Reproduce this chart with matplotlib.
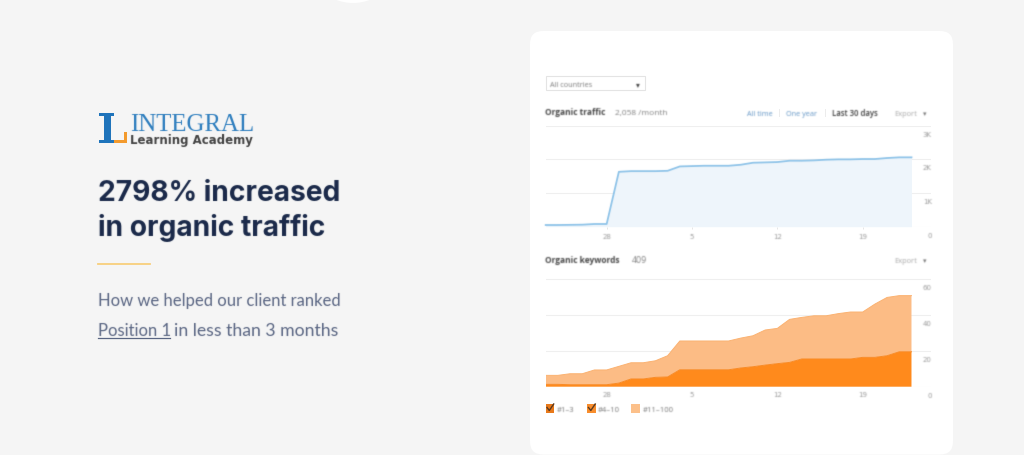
import numpy as np
import matplotlib
matplotlib.use("Agg")
import matplotlib.pyplot as plt
from matplotlib.patches import FancyBboxPatch, Rectangle, Circle
from matplotlib.transforms import ScaledTranslation

# ---- data ----
days = list(range(-5, 26))
traffic = [50, 50, 55, 60, 80, 80, 1630, 1650, 1650, 1650, 1660, 1790, 1800, 1810, 1810, 1810,
           1840, 1900, 1910, 1920, 1960, 1960, 1970, 1990, 2000, 2000, 2010, 2010, 2040, 2060, 2060]
top3 = [0] * 31
pos4_10 = [1.3, 1.3, 1.1, 1.1, 1.1, 1.1, 2.0, 4.3, 4.3, 5.2, 5.4, 9.4, 9.4, 9.4, 9.4, 9.4,
           10.4, 11.1, 12.0, 12.8, 13.5, 15.4, 15.4, 15.4, 15.4, 15.4, 16.3, 16.3, 17.2, 19.4, 19.4]
kw_total = [6.3, 6.3, 7.2, 7.2, 9.3, 9.3, 11.3, 13.3, 13.3, 14.4, 17.2, 25.4, 25.4, 25.4, 25.4, 25.4,
            27.0, 28.3, 31.5, 32.4, 37.4, 38.5, 39.4, 39.4, 40.6, 41.5, 41.5, 45.9, 49.6, 50.6, 50.6]
pos11_100 = [t - a - b for t, a, b in zip(kw_total, top3, pos4_10)]
x_ticks = [0, 7, 14, 21]
x_labels = ["28", "5", "12", "19"]
traffic_ticks = [0, 1000, 2000, 3000]
traffic_labels = ["0", "1K", "2K", "3K"]
kw_ticks = [0, 20, 40, 60]
kw_labels = ["0", "20", "40", "60"]

W, H = 1024, 456
fig = plt.figure(figsize=(W / 100, H / 100), dpi=100, facecolor="#f5f5f5")


def blur_filter(radius):
    k = np.exp(-0.5 * (np.arange(-3, 4) / radius) ** 2)
    k /= k.sum()

    def f(img, dpi):
        pad = 4
        a = np.pad(img, ((pad, pad), (pad, pad), (0, 0)))
        a = a.copy()
        alpha = a[..., 3:4]
        pm = np.concatenate([a[..., :3] * alpha, alpha], axis=2)
        for ax_ in (0, 1):
            pm = np.apply_along_axis(lambda m: np.convolve(m, k, mode="same"), ax_, pm)
        al = np.clip(pm[..., 3:4], 1e-4, 1)
        out = np.concatenate([np.clip(pm[..., :3] / al, 0, 1), pm[..., 3:4]], axis=2)
        return out, -pad, -pad
    return f


SOFT = blur_filter(0.65)
SOFT2 = blur_filter(0.5)

bg = fig.add_axes([0, 0, 1, 1])
bg.set_xlim(0, W)
bg.set_ylim(H, 0)
bg.axis("off")


def T(x, y, s, size, color, weight="normal", family="Open Sans", ha="left", va="baseline", blur=SOFT):
    t = bg.text(x, y, s, fontsize=size, color=color, fontweight=weight, family=family, ha=ha, va=va, zorder=5)
    t.set_agg_filter(blur)
    return t


bg.add_patch(Circle((353, -43), 47, fc="white", ec="none"))
bg.add_patch(FancyBboxPatch((542, 44), 399, 399.5, boxstyle="round,pad=12,rounding_size=13", fc="white", ec="none"))

# logo
BL = "#1f74bb"
OR = "#f39a2d"
bg.add_patch(Rectangle((98.5, 114), 15, 3.2, fc=BL, ec="none"))
bg.add_patch(Rectangle((98.5, 141), 15, 3.2, fc=BL, ec="none"))
bg.add_patch(Rectangle((104.3, 114), 6.2, 30, fc=BL, ec="none"))
bg.add_patch(Rectangle((114, 141), 13, 3.2, fc=OR, ec="none"))
bg.add_patch(Rectangle((123.7, 133), 3.3, 11, fc=OR, ec="none"))
T(130.5, 131.5, "INTEGRAL", 17.9, "#2f7fbf", family="Liberation Serif", blur=SOFT2)
T(130.5, 144.5, "Learning Academy", 8.5, "#444444", weight="bold", family="DejaVu Sans", blur=SOFT2)

# left copy
NAVY = "#1b2a4a"
T(98, 201, "2798% increased", 20.3, NAVY, weight="bold", family="Inter", blur=SOFT2)
T(98, 236, "in organic traffic", 20.3, NAVY, weight="bold", family="Inter", blur=SOFT2)
bg.plot([98, 149.5], [265.4, 265.4], color="#f8cf7c", lw=1.3)
GR = "#5a6683"
T(98, 306, "How we helped our client ranked", 12, GR, family="Lato", blur=SOFT2)
T(98, 336, "Position 1", 12, GR, family="Lato", blur=SOFT2)
bg.plot([98, 169.5], [339, 339], color=GR, lw=0.9)
T(174, 336, "in less than 3 months", 12.7, GR, family="Lato", blur=SOFT2)

# header widgets
bg.add_patch(Rectangle((545.5, 77), 99.5, 14, fc="white", ec="#e4e4e4", lw=0.8))
T(550, 87, "All countries", 5.2, "#777777")
T(638, 86.8, "▾", 5.5, "#444444", family="DejaVu Sans", ha="center")
T(545, 115, "Organic traffic", 6, "#444444", weight="bold")
T(615, 115.5, "2,058 /month", 6, "#808080")
T(747, 116.3, "All time", 5.2, "#5f93c4")
T(786, 116.3, "One year", 5.2, "#5f93c4")
T(832, 116.3, "Last 30 days", 5.6, "#3a3a3a", weight="semibold")
T(894.5, 116.3, "Export", 5.4, "#a8a8a8")
T(925, 116.3, "▾", 5, "#7c7c7c", family="DejaVu Sans", ha="center")
for x in (778.5, 824.5):
    bg.plot([x, x], [110, 117], color="#ececec", lw=0.7)
T(545, 262.7, "Organic keywords", 6, "#444444", weight="bold")
T(631.5, 263, "409", 6.3, "#808080")
T(894.5, 262.7, "Export", 5.4, "#a8a8a8")
T(925, 262.7, "▾", 5, "#7c7c7c", family="DejaVu Sans", ha="center")

# legend
ORD = "#e8791a"
ORM = "#f88d2c"
ORL = "#fcc08a"
for x0, c in [(545.5, ORD), (587, ORM)]:
    bg.add_patch(Rectangle((x0, 405.5), 8.5, 8.5, fc=c, ec="none"))
    bg.plot([x0 + 1.5, x0 + 3.8, x0 + 8.2], [408.5, 411.5, 405], color="#5a3a20", lw=1)
bg.add_patch(Rectangle((631, 405.5), 8.5, 8.5, fc=ORL, ec="none"))
T(557, 412, "#1–3", 5.5, "#777777")
T(598, 412, "#4–10", 5.5, "#777777")
T(642.5, 412, "#11–100", 5.5, "#777777")


def make_ax(top_px, bot_px):
    ax = fig.add_axes([545.7 / W, 1 - bot_px / H, (930.5 - 545.7) / W, (bot_px - top_px) / H])
    ax.patch.set_alpha(0)
    ax.set_xlim(-5, 26.56)
    for s in ax.spines.values():
        s.set_visible(False)
    ax.set_axisbelow(True)
    return ax


def style(ax, yt, yl, xtick_len):
    ax.set_xticks(x_ticks, x_labels)
    ax.set_yticks(yt, yl)
    ax.yaxis.tick_right()
    ax.grid(axis="y", color="#efefef", lw=0.8)
    ax.tick_params(axis="y", length=0, pad=1, labelsize=5, labelcolor="#999999")
    ax.tick_params(axis="x", length=xtick_len, width=0.6, color="#e2e2e2", pad=2.8, labelsize=5, labelcolor="#999999")
    off = ScaledTranslation(0, -8 / 100, fig.dpi_scale_trans)
    for lab in ax.get_yticklabels():
        lab.set_ha("right")
        lab.set_va("center")
        lab.set_transform(lab.get_transform() + off)
        lab.set_agg_filter(SOFT)
    for lab in ax.get_xticklabels():
        lab.set_agg_filter(SOFT)


# traffic chart
ax1 = make_ax(126.7, 227.7)
ax1.set_ylim(0, 3000)
ax1.fill_between(days, traffic, color="#eef5fb", lw=0, zorder=1)
ln, = ax1.plot(days, traffic, color="#8fc4e9", lw=1.3, zorder=3, solid_joinstyle="round", clip_on=False)
ln.set_agg_filter(SOFT2)
style(ax1, traffic_ticks, traffic_labels, 1.5)

# keywords chart
ax2 = make_ax(279, 387.7)
ax2.set_ylim(0, 60.4)
ax2.stackplot(days, top3, pos4_10, pos11_100, colors=[ORD, "#ff8a1c", "#fcbc85"], lw=0, zorder=2)
ax2.plot(days, kw_total, color="#fbb271", lw=0.7, zorder=3)
ax2.plot(days, [a + b for a, b in zip(top3, pos4_10)], color="#f98a24", lw=0.7, zorder=3)
style(ax2, kw_ticks, kw_labels, 0)

fig.savefig("out.png", dpi=100, facecolor=fig.get_facecolor())
